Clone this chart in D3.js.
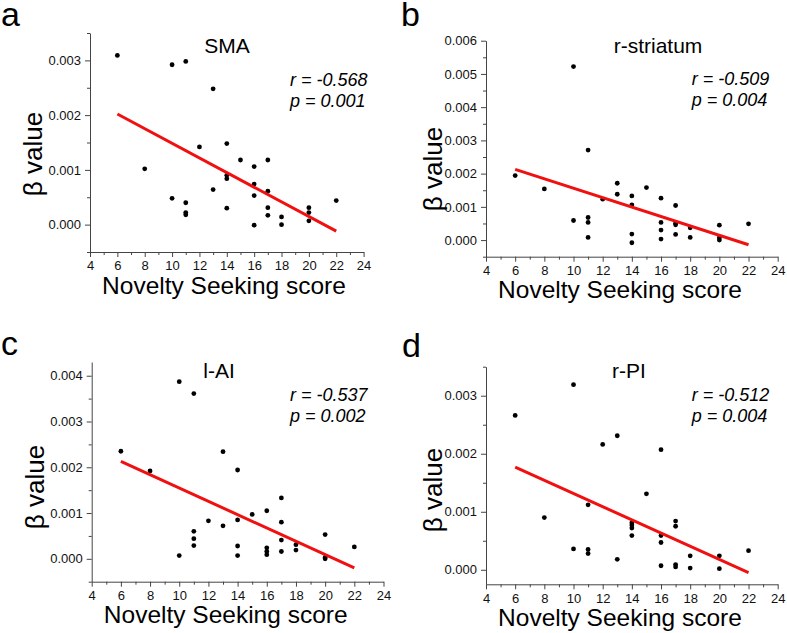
<!DOCTYPE html>
<html>
<head>
<meta charset="utf-8">
<script src="https://cdn.jsdelivr.net/npm/d3@7"></script>
<style>
  html, body { margin: 0; padding: 0; background: #fff; }
  svg { display: block; font-family: "Liberation Sans", Arial, Helvetica, sans-serif; }
  .domain, .tick line { stroke: #444; stroke-width: 1px; }
</style>
</head>
<body>
<svg id="chart" width="787" height="633"></svg>
<script>
// ---------- data ----------
const xTicks = [4, 6, 8, 10, 12, 14, 16, 18, 20, 22, 24];
const xLabel = "Novelty Seeking score";
const yLabel = "β value";

// SMA
const smaX = [6,8,10,10,11,11,11,11,12,13,13,14,14,14,14,15,16,16,16,16,17,17,17,17,18,18,20,20,20,22];
const smaY = [0.00309,0.00102,0.00292,0.00048,0.00298,0.00040,0.00022,0.00018,0.00142,0.00248,0.00064,0.00148,0.00090,0.00084,0.00030,0.00118,0.00106,0.00074,0.00053,-0.00001,0.00118,0.00061,0.00031,0.00017,0.00014,0.00000,0.00031,0.00022,0.00007,0.00044];
const smaFit = [[6, 0.00202], [22, -0.00012]];
const smaTicks = [0.000, 0.001, 0.002, 0.003];

// r-striatum
const strX = [6,8,10,10,11,11,11,11,12,13,13,14,14,14,14,15,16,16,16,16,17,17,17,17,18,18,20,20,20,22];
const strY = [0.00194,0.00154,0.00522,0.00059,0.00271,0.00068,0.00053,0.00008,0.00123,0.00171,0.00138,0.00133,0.00106,0.00018,-0.00008,0.00158,0.00126,0.00053,0.00030,0.00003,0.00104,0.00051,0.00046,0.00017,0.00037,0.00008,0.00045,0.00007,0.00000,0.00049];
const strFit = [[6, 0.00213], [22, -0.00014]];
const strTicks = [0.000, 0.001, 0.002, 0.003, 0.004, 0.005, 0.006];

// l-AI
const aiX = [6,8,10,10,11,11,11,11,12,13,13,14,14,14,14,15,16,16,16,16,17,17,17,17,18,18,20,20,20,22];
const aiY = [0.00235,0.00192,0.00387,0.00007,0.00361,0.00060,0.00044,0.00029,0.00083,0.00234,0.00072,0.00194,0.00085,0.00028,0.00007,0.00097,0.00105,0.00024,0.00016,0.00009,0.00133,0.00080,0.00041,0.00016,0.00031,0.00019,0.00053,0.00003,0.00000,0.00026];
const aiFit = [[6, 0.00213], [22, -0.00020]];
const aiTicks = [0.000, 0.001, 0.002, 0.003, 0.004];

// r-PI
const piX = [6,8,10,10,11,11,11,12,13,13,14,14,14,14,15,16,16,16,16,17,17,17,17,18,18,20,20,22];
const piY = [0.00266,0.00090,0.00319,0.00036,0.00112,0.00035,0.00028,0.00216,0.00231,0.00018,0.00081,0.00077,0.00072,0.00059,0.00131,0.00207,0.00059,0.00047,0.00007,0.00084,0.00075,0.00009,0.00005,0.00024,0.00003,0.00024,0.00002,0.00033];
const piFit = [[6, 0.00177], [22, -0.00005]];
const piTicks = [0.000, 0.001, 0.002, 0.003];

const titles = ["SMA", "r-striatum", "l-AI", "r-PI"];
const letters = ["a", "b", "c", "d"];
const rValues = ["-0.568", "-0.509", "-0.537", "-0.512"];
const pValues = ["0.001", "0.004", "0.002", "0.004"];

// ---------- layout ----------
const FONT = '"Liberation Sans", Arial, Helvetica, sans-serif';
const panels = [
  { xs: smaX, ys: smaY, fit: smaFit, yt: smaTicks, yDom: [-0.0005, 0.0035],
    left: 90, right: 363.6, top: 33, bottom: 252,
    title: [227, 53.3], stats: [290, 86, 107], letter: [1, 26], yLab: [48, 154] },
  { xs: strX, ys: strY, fit: strFit, yt: strTicks, yDom: [-0.0005, 0.006],
    left: 486, right: 777.7, top: 40.7, bottom: 256.7,
    title: [658, 53.3], stats: [691.7, 85, 106], letter: [401, 26], yLab: [44, 169] },
  { xs: aiX, ys: aiY, fit: aiFit, yt: aiTicks, yDom: [-0.0005, 0.0043],
    left: 91.7, right: 383.5, top: 362, bottom: 581.7,
    title: [219, 377.7], stats: [290, 401, 421.7], letter: [1, 355], yLab: [48, 487] },
  { xs: piX, ys: piY, fit: piFit, yt: piTicks, yDom: [-0.00025, 0.0035],
    left: 486, right: 777.7, top: 366.7, bottom: 584.3,
    title: [629, 377.7], stats: [691.7, 401, 421.7], letter: [402, 357], yLab: [44, 490] }
];

const svg = d3.select("#chart");
const fmt = d3.format(".3f");
const styleTicks = s => s.selectAll("text")
  .attr("font-size", 13).attr("font-family", FONT).attr("fill", "#111");

panels.forEach((p, i) => {
  const x = d3.scaleLinear().domain([4, 24]).range([p.left, p.right]);
  const y = d3.scaleLinear().domain(p.yDom).range([p.bottom, p.top]);
  const g = svg.append("g");

  // minor ticks
  const xMinor = d3.range(5, 24, 2);
  const yMinor = d3.range(Math.ceil(p.yDom[0] / 0.0005), Math.floor(p.yDom[1] / 0.0005 + 1e-6) + 1)
    .map(k => k * 0.0005)
    .filter(v => Math.abs(Math.round(v * 1000) - v * 1000) > 1e-6);

  g.append("g").attr("transform", `translate(0,${p.bottom})`)
    .call(d3.axisBottom(x).tickValues(xMinor).tickSize(3).tickFormat(""))
    .call(s => s.select(".domain").remove());
  g.append("g").attr("transform", `translate(${p.left},0)`)
    .call(d3.axisLeft(y).tickValues(yMinor).tickSize(3).tickFormat(""))
    .call(s => s.select(".domain").remove());

  // major axes
  g.append("g").attr("transform", `translate(0,${p.bottom})`)
    .call(d3.axisBottom(x).tickValues(xTicks).tickSize(5).tickSizeOuter(0).tickPadding(4).tickFormat(d3.format("d")))
    .call(styleTicks);
  g.append("g").attr("transform", `translate(${p.left},0)`)
    .call(d3.axisLeft(y).tickValues(p.yt).tickSize(5).tickSizeOuter(0).tickPadding(4).tickFormat(fmt))
    .call(styleTicks);

  // points
  g.append("g").selectAll("circle")
    .data(p.xs.map((v, k) => [v, p.ys[k]]))
    .join("circle")
    .attr("cx", d => x(d[0]))
    .attr("cy", d => y(d[1]))
    .attr("r", 2.4)
    .attr("fill", "#000");

  // fit line
  g.append("path")
    .datum(p.fit)
    .attr("d", d3.line().x(d => x(d[0])).y(d => y(d[1])))
    .attr("stroke", "#f01010")
    .attr("stroke-width", 3)
    .attr("fill", "none");

  // title
  g.append("text").attr("x", p.title[0]).attr("y", p.title[1])
    .attr("text-anchor", "middle").attr("font-size", 21).attr("fill", "#000")
    .text(titles[i]);

  // stats
  g.append("text").attr("x", p.stats[0]).attr("y", p.stats[1])
    .attr("font-size", 18).attr("font-style", "italic").attr("fill", "#000")
    .text(`r = ${rValues[i]}`);
  g.append("text").attr("x", p.stats[0]).attr("y", p.stats[2])
    .attr("font-size", 18).attr("font-style", "italic").attr("fill", "#000")
    .text(`p = ${pValues[i]}`);

  // panel letter
  g.append("text").attr("x", p.letter[0]).attr("y", p.letter[1])
    .attr("font-size", 34).attr("fill", "#000").text(letters[i]);

  // axis labels
  g.append("text").attr("x", p.left + 134).attr("y", p.bottom + 41.5)
    .attr("text-anchor", "middle").attr("font-size", 24.5).attr("fill", "#000")
    .text(xLabel);
  g.append("text")
    .attr("transform", `translate(${p.left - p.yLab[0]},${p.yLab[1]}) rotate(-90)`)
    .attr("text-anchor", "middle").attr("font-size", 26).attr("fill", "#000")
    .text(yLabel);
});
</script>
</body>
</html>
